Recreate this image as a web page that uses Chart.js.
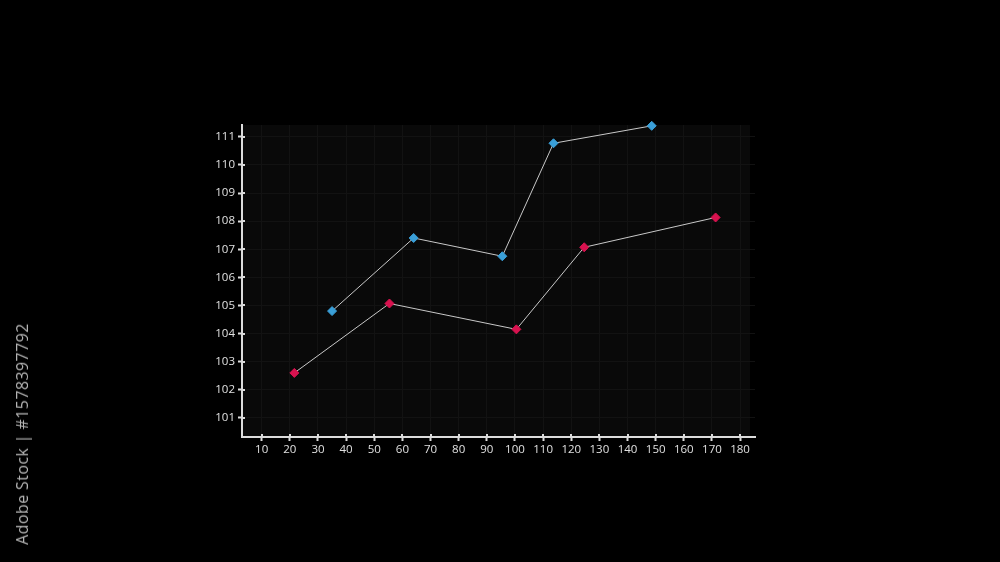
<!DOCTYPE html>
<html>
<head>
<meta charset="utf-8">
<script src="https://cdn.jsdelivr.net/npm/chart.js@4"></script>
<style>
  html, body { margin: 0; padding: 0; background: #000; }
  #wrap { position: relative; width: 1000px; height: 562px; }
  #stamp {
    position: absolute; left: 22px; top: 434px;
    transform: translate(-50%, -50%) rotate(-90deg);
    white-space: nowrap; color: #b4b4b4;
    font: 16px "Open Sans", sans-serif; letter-spacing: 0.4px;
  }
</style>
</head>
<body>
<div id="wrap">
  <canvas id="lineChart" width="1000" height="562"></canvas>
  <div id="stamp">Adobe Stock | #1578397792</div>
</div>
<script>
const BLUE_X = [35, 64, 95.5, 113.7, 148.6];
const BLUE_Y = [104.8, 107.4, 106.75, 110.77, 111.39];
const RED_X = [21.6, 55.4, 100.5, 124.6, 171.3];
const RED_Y = [102.6, 105.07, 104.15, 107.07, 108.13];
const X_TICKS = [10, 20, 30, 40, 50, 60, 70, 80, 90, 100, 110, 120, 130, 140, 150, 160, 170, 180];
const Y_TICKS = [101, 102, 103, 104, 105, 106, 107, 108, 109, 110, 111];

main();

function main(){
    const CANVAS = document.getElementById("lineChart");

    // dark panel behind the plot
    const plotBack = {
        id: "plotBack",
        beforeDraw(chart){
            const c = chart.ctx, a = chart.chartArea;
            c.save();
            c.fillStyle = "#000";
            c.fillRect(0, 0, chart.width, chart.height);
            c.fillStyle = "#090909";
            c.fillRect(a.left, a.top, a.right - a.left - 5, a.bottom - a.top);
            c.restore();
        }
    };

    // inner half of the tick marks (they cross the axis line)
    const innerTicks = {
        id: "innerTicks",
        afterDraw(chart){
            const c = chart.ctx, a = chart.chartArea;
            const sx = chart.scales.x, sy = chart.scales.y;
            c.save();
            c.strokeStyle = "#dcdcdc";
            c.lineWidth = 2;
            c.beginPath();
            X_TICKS.forEach(v => {
                const px = Math.round(sx.getPixelForValue(v));
                c.moveTo(px, a.bottom);
                c.lineTo(px, a.bottom - 3);
            });
            Y_TICKS.forEach(v => {
                const py = Math.round(sy.getPixelForValue(v));
                c.moveTo(a.left, py);
                c.lineTo(a.left + 3, py);
            });
            c.stroke();
            c.restore();
        }
    };

    const pairs = (xs, ys) => xs.map((x, i) => ({x: x, y: ys[i]}));

    const marker = (color) => ({
        borderColor: "#c8c8c8",
        borderWidth: 1,
        pointStyle: "rectRot",
        pointRadius: 4.5,
        pointBackgroundColor: color,
        pointBorderColor: color,
        pointBorderWidth: 1,
        showLine: true,
        fill: false,
        tension: 0,
        clip: false
    });

    new Chart(CANVAS, {
        type: "scatter",
        data: {
            datasets: [
                Object.assign({label: "blue", data: pairs(BLUE_X, BLUE_Y)}, marker("#3a9fd8")),
                Object.assign({label: "red", data: pairs(RED_X, RED_Y)}, marker("#d8124f"))
            ]
        },
        options: {
            responsive: false,
            animation: false,
            layout: { padding: { top: 125, right: 245, left: 0, bottom: 0 } },
            plugins: { legend: { display: false }, tooltip: { enabled: false } },
            scales: {
                x: {
                    type: "linear",
                    min: 3,
                    max: 185.3,
                    afterBuildTicks(s){ s.ticks = X_TICKS.map(v => ({value: v})); },
                    afterFit(s){ s.height = 125; },
                    grid: { color: "#121212", tickColor: "#dcdcdc", tickLength: 4, lineWidth: 1, tickWidth: 2 },
                    border: { color: "#dcdcdc", width: 2 },
                    ticks: { color: "#e0e0e0", font: { family: "Open Sans", size: 11.5 }, padding: 2, maxRotation: 0, autoSkip: false }
                },
                y: {
                    type: "linear",
                    min: 100.32,
                    max: 111.42,
                    afterBuildTicks(s){ s.ticks = Y_TICKS.map(v => ({value: v})); },
                    afterFit(s){ s.width = 242; },
                    grid: { color: "#121212", tickColor: "#dcdcdc", tickLength: 4, lineWidth: 1, tickWidth: 2 },
                    border: { color: "#dcdcdc", width: 2 },
                    ticks: { color: "#e0e0e0", font: { family: "Open Sans", size: 11.5 }, padding: 3, autoSkip: false }
                }
            }
        },
        plugins: [plotBack, innerTicks]
    });
}
</script>
</body>
</html>
